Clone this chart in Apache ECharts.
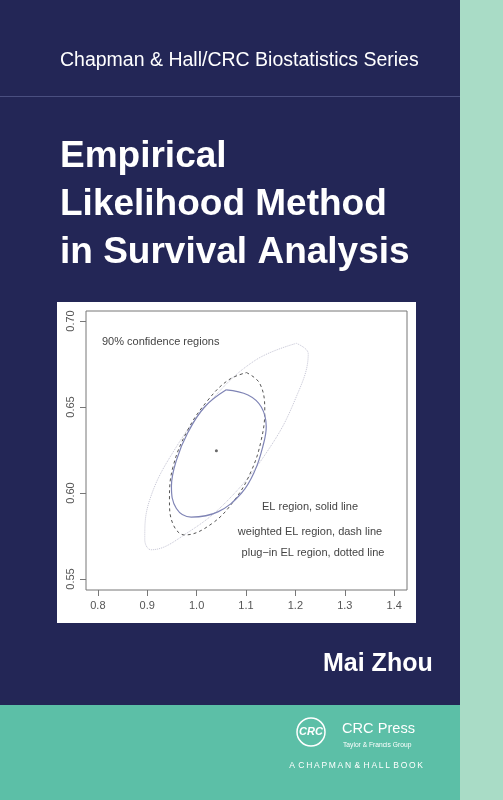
<!DOCTYPE html>
<html><head><meta charset="utf-8">
<script src="https://cdn.jsdelivr.net/npm/echarts@6/dist/echarts.min.js"></script>
<style>html,body{margin:0;padding:0;background:#232656}#c{width:503px;height:800px}</style>
</head><body><div id="c"></div>
<script>
const xTicks=[0.8,0.9,1.0,1.1,1.2,1.3,1.4];
const yTicks=[0.55,0.60,0.65,0.70];
const elSolid=[[1.060,0.660],[1.104,0.657],[1.131,0.650],[1.141,0.6385],[1.134,0.627],[1.118,0.613],[1.091,0.600],[1.043,0.589],[0.989,0.586],[0.959,0.591],[0.949,0.604],[0.959,0.619],[0.982,0.635],[1.016,0.650],[1.060,0.660]];
const weightedDash=[[1.101,0.670],[1.128,0.6636],[1.138,0.648],[1.131,0.631],[1.111,0.613],[1.077,0.596],[1.030,0.582],[0.976,0.5756],[0.952,0.582],[0.945,0.596],[0.952,0.615],[0.982,0.6366],[1.023,0.654],[1.064,0.6656],[1.101,0.670]];
const plugDotted=[[1.202,0.687],[1.226,0.681],[1.199,0.654],[1.145,0.625],[1.064,0.596],[0.982,0.577],[0.908,0.567],[0.895,0.573],[0.905,0.596],[0.955,0.625],[1.030,0.654],[1.118,0.677],[1.202,0.687]];
const centre=[[1.04,0.6246]];
const chart=echarts.init(document.getElementById('c'));
const F='"Liberation Sans", Arial';
const txt=(x,y,t,o)=>({type:'text',style:Object.assign({x:x,y:y,text:t,fill:'#fff',font:'16px '+F,verticalAlign:'middle'},o||{})});
const lab=(x,y,t,a)=>txt(x,y,t,{fill:'#444',font:'11px '+F,align:a||'center'});
chart.setOption({
  animation:false,
  graphic:[
    {type:'rect',shape:{x:0,y:0,width:460,height:705},style:{fill:'#232656'},z:-10},
    {type:'rect',shape:{x:460,y:0,width:43,height:800},style:{fill:'#a9dcc6'},z:-10},
    {type:'rect',shape:{x:0,y:705,width:460,height:95},style:{fill:'#5cbfa7'},z:-10},
    {type:'rect',shape:{x:0,y:96,width:460,height:1},style:{fill:'#4a4f80'},z:-9},
    {type:'rect',shape:{x:57,y:302,width:359,height:321},style:{fill:'#ffffff'},z:-9},
    txt(60,61,'Chapman & Hall/CRC Biostatistics Series',{font:'19.5px '+F}),
    txt(60,157,'Empirical',{font:'bold 37px '+F}),
    txt(60,205,'Likelihood Method',{font:'bold 37px '+F}),
    txt(60,253,'in Survival Analysis',{font:'bold 37px '+F}),
    txt(323,664,'Mai Zhou',{font:'bold 25px '+F}),
    {type:'circle',shape:{cx:311,cy:732,r:14},style:{fill:'none',stroke:'#fff',lineWidth:1.5}},
    txt(311,732,'CRC',{font:'italic bold 11px '+F,align:'center'}),
    txt(342,729,'CRC Press',{font:'14.6px '+F}),
    txt(343,745,'Taylor & Francis Group',{font:'6.7px '+F}),
    txt(423,766,'A  C H A P M A N  &  H A L L  B O O K'.replace(/ /g,'\u2009'),{font:'8.5px '+F,align:'right'}),
    lab(102,342,'90% confidence regions','left'),
    lab(310,507,'EL region, solid line'),
    lab(310,532,'weighted EL region, dash line'),
    lab(313,553,'plug\u2212in EL region, dotted line')
  ],
  grid:{left:86,top:311,width:321,height:279,show:true,borderColor:'#777',borderWidth:1,backgroundColor:'#fff'},
  xAxis:{type:'value',min:0.776,max:1.426,splitLine:{show:false},axisLine:{show:false},
    axisTick:{show:true,length:6,lineStyle:{color:'#777'},customValues:xTicks},
    axisLabel:{customValues:xTicks,formatter:v=>v.toFixed(1),color:'#555',fontSize:11,margin:10,fontFamily:'Liberation Sans'}},
  yAxis:{type:'value',min:0.5436,max:0.7058,splitLine:{show:false},axisLine:{show:false},
    axisTick:{show:true,length:6,lineStyle:{color:'#777'},customValues:yTicks},
    axisLabel:{customValues:yTicks,formatter:v=>v.toFixed(2),color:'#555',fontSize:11,rotate:90,margin:10,fontFamily:'Liberation Sans'}},
  series:[
    {type:'line',data:plugDotted,smooth:0.4,symbol:'none',lineStyle:{color:'#c4c4d4',width:1,type:'dotted'}},
    {type:'line',data:weightedDash,smooth:0.4,symbol:'none',lineStyle:{color:'#555',width:1,type:[3,3]}},
    {type:'line',data:elSolid,smooth:0.4,symbol:'none',lineStyle:{color:'#7f84b5',width:1.2}},
    {type:'scatter',data:centre,symbolSize:3,itemStyle:{color:'#444'}}
  ]
});
</script></body></html>
